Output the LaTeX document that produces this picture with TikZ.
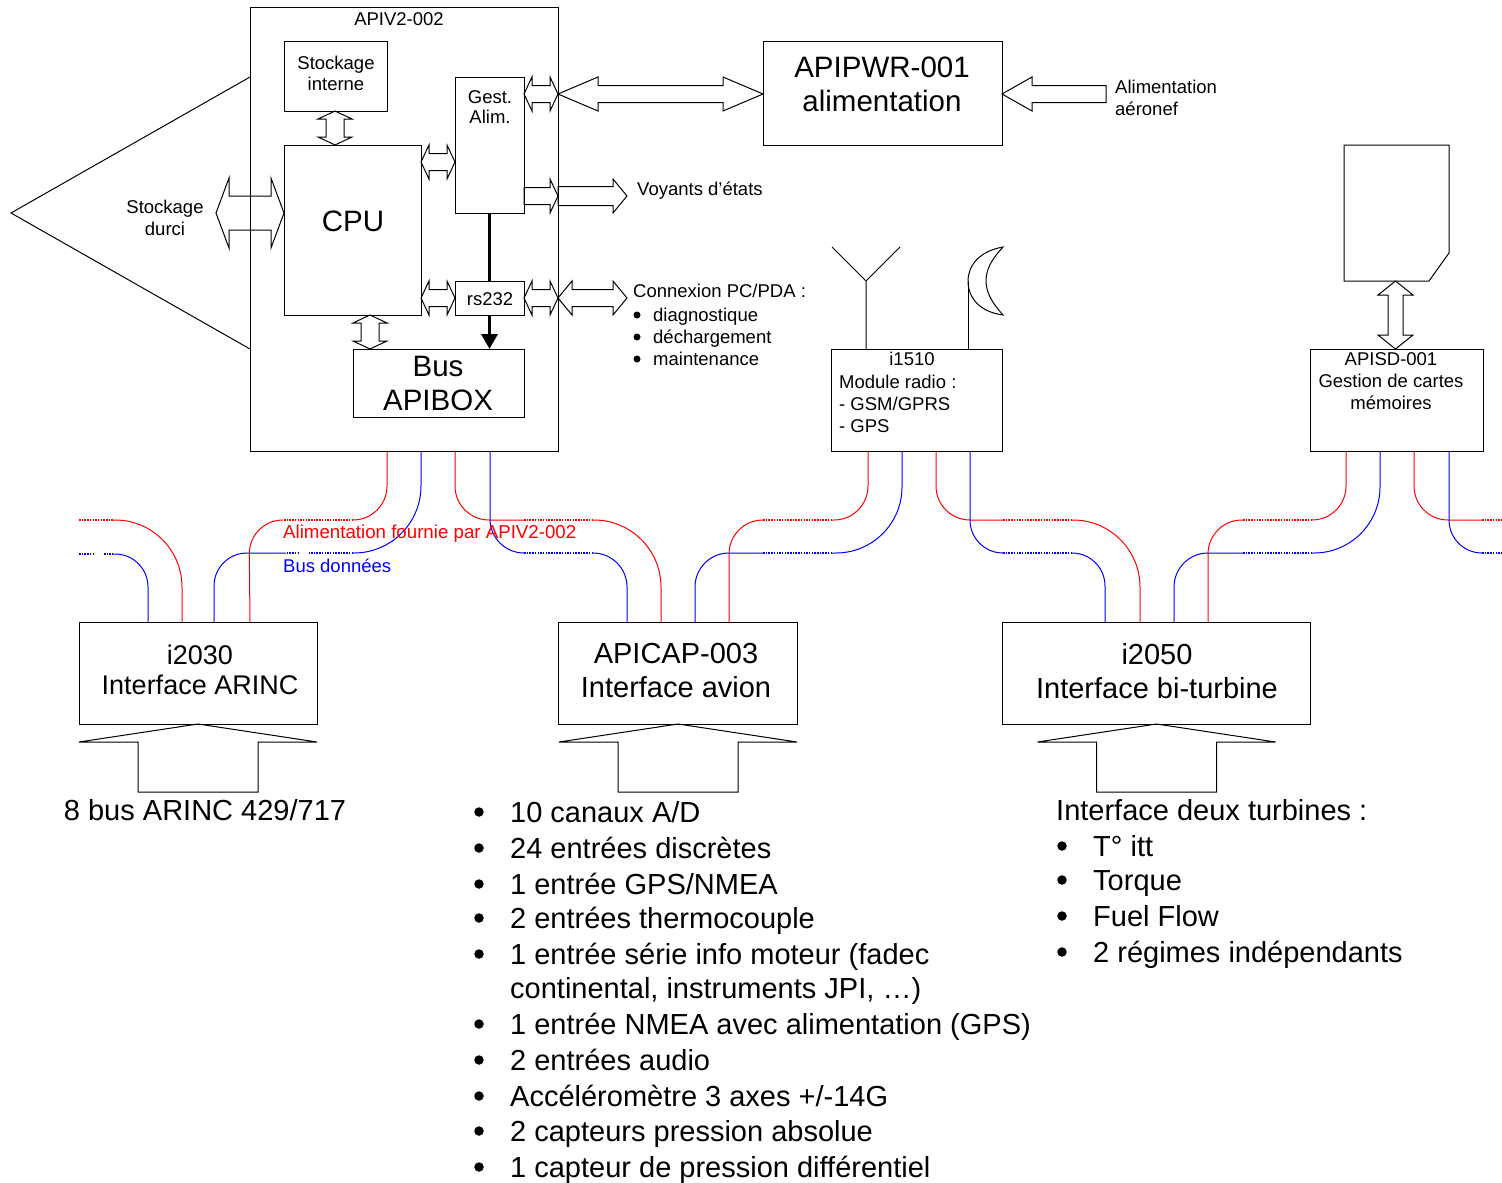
\documentclass[tikz,border=0pt]{standalone}
\usepackage{fontspec}
\setmainfont{Liberation Sans}
\usetikzlibrary{calc,arrows.meta}
\tikzset{
  box/.style={draw=black,line width=1pt,inner sep=0pt,outer sep=0pt},
  blockarrow/.style={draw=black,line width=1pt,line join=miter},
  outline/.style={draw=black,line width=1pt},
  redw/.style={draw=red,line width=1pt},
  bluew/.style={draw=blue,line width=1pt},
  reddots/.style={draw=red,line width=1.5pt,dash pattern=on 1.5pt off 1.2pt},
  bluedots/.style={draw=blue,line width=1.5pt,dash pattern=on 1.5pt off 1.2pt},
  small/.style={font=\fontsize{18.5}{22}\selectfont,inner sep=0pt,align=center},
  smallb/.style={font=\fontsize{18.5}{22}\selectfont,inner sep=0pt,anchor=base west},
  mid/.style={font=\fontsize{27}{30}\selectfont,inner sep=0pt,align=center},
  big/.style={font=\fontsize{29.5}{34}\selectfont,inner sep=0pt,align=center},
  bigb/.style={font=\fontsize{29}{34}\selectfont,inner sep=0pt,align=center},
  listtxt/.style={font=\fontsize{29}{34}\selectfont,inner sep=0pt,anchor=base west},
  bigdot/.style={circle,fill=black,inner sep=0pt,minimum size=9.5pt},
  smalldot/.style={circle,fill=black,inner sep=0pt,minimum size=7pt},
}
\newcommand\bx[5]{\node[box,minimum width={(#4)*1pt-(#2)*1pt},minimum height={(#5)*1pt-(#3)*1pt}] (#1) at ({(#2+#4)/2},{(#3+#5)/2}) {};}
% from, to, head length, half shaft, half head
\newcommand\dblarrow[5]{\coordinate (A) at #1; \coordinate (B) at #2;
  \draw[blockarrow] (A)
   -- ($(A)!#3pt!(B)!#5pt!90:(B)$) -- ($(A)!#3pt!(B)!#4pt!90:(B)$)
   -- ($(B)!#3pt!(A)!#4pt!-90:(A)$) -- ($(B)!#3pt!(A)!#5pt!-90:(A)$)
   -- (B)
   -- ($(B)!#3pt!(A)!#5pt!90:(A)$) -- ($(B)!#3pt!(A)!#4pt!90:(A)$)
   -- ($(A)!#3pt!(B)!#4pt!-90:(B)$) -- ($(A)!#3pt!(B)!#5pt!-90:(B)$)
   -- cycle;}
\newcommand\onearrow[5]{\coordinate (A) at #1; \coordinate (B) at #2;
  \draw[blockarrow] ($(A)!#4pt!90:(B)$)
   -- ($(B)!#3pt!(A)!#4pt!-90:(A)$) -- ($(B)!#3pt!(A)!#5pt!-90:(A)$)
   -- (B)
   -- ($(B)!#3pt!(A)!#5pt!90:(A)$) -- ($(B)!#3pt!(A)!#4pt!90:(A)$)
   -- ($(A)!#4pt!-90:(B)$) -- cycle;}
\newcommand\inarrow[1]{\draw[blockarrow] #1 -- ++(-119,18) -- ++(59,0) -- ++(0,50) -- ++(120,0) -- ++(0,-50) -- ++(59,0) -- cycle;}
\begin{document}
\begin{tikzpicture}[x=1pt,y=-1pt]
\useasboundingbox (0,0) rectangle (1502,1183);

% boxes
\bx{apiv}{250}{7}{558}{451}
\bx{stock}{284}{41}{387}{111}
\bx{cpu}{284}{145}{421}{315}
\bx{gest}{455}{77}{524}{213}
\bx{rs}{455}{281}{524}{315}
\bx{bus}{353}{349}{524}{417}
\bx{pwr}{763}{41}{1002}{145}
\bx{radio}{831}{349}{1002}{451}
\bx{sd}{1310}{349}{1483}{451}
\bx{arinc}{79}{622}{317}{724}
\bx{cap}{558}{622}{797}{724}
\bx{turb}{1002}{622}{1310}{724}

% outline shapes
\draw[outline] (250,77) -- (11,213) -- (250,349);
\draw[outline] (1344,145) -- (1449,145) -- (1449,253) -- (1429,281) -- (1344,281) -- cycle;

% antenna and dish
\draw[outline] (866,0 |- radio.north) -- (866,281) -- (832,247);
\draw[outline] (866,281) -- (900,247);
\draw[outline] (968,0 |- radio.north) -- (968,281);
\draw[outline] (1003,247) .. controls (980,251) and (968,265) .. (968,281)
   .. controls (968,298) and (980,312) .. (1003,315)
   .. controls (993,304) and (986,293) .. (986,281)
   .. controls (986,268) and (993,258) .. (1003,247) -- cycle;

% block arrows
\dblarrow{(apiv.east |- 0,94)}{(pwr.west |- 0,94)}{40}{8.5}{17}
\dblarrow{(gest.east |- 0,94)}{(apiv.east |- 0,94)}{8}{8.5}{17}
\dblarrow{(cpu.east |- 0,162)}{(gest.west |- 0,162)}{8}{8.5}{17}
\dblarrow{(cpu.east |- rs.west)}{(rs.west)}{8}{8.5}{17}
\dblarrow{(rs.east)}{(apiv.east |- rs.east)}{8}{8.5}{17}
\coordinate (pcend) at (627,298);
\dblarrow{(apiv.east |- rs.east)}{(pcend)}{14}{8.5}{17}
\onearrow{(gest.east |- 0,196)}{(apiv.east |- 0,196)}{8}{8.5}{17}
\coordinate (voyend) at (627,196);
\onearrow{(apiv.east |- 0,196)}{(voyend)}{14}{9.5}{17}
\coordinate (aeroend) at (1106,94);
\onearrow{(aeroend)}{(pwr.east |- 0,94)}{30}{8.5}{17}
\coordinate (durci) at (216,213);
\dblarrow{(durci)}{(cpu.west |- 0,213)}{13}{17}{35}
\dblarrow{(335,0 |- stock.south)}{(335,0 |- cpu.north)}{8}{9}{17}
\dblarrow{(370,0 |- cpu.south)}{(370,0 |- bus.north)}{8}{9}{17}
\coordinate (cardb) at (1395.5,281);
\dblarrow{(cardb)}{(1395.5,0 |- sd.north)}{14}{7.5}{17.5}

\inarrow{(198,0 |- arinc.south)}
\inarrow{(678,0 |- cap.south)}
\inarrow{(1156.5,0 |- turb.south)}

% thick link
\draw[line width=3.4pt] (gest.south) -- (rs.north);
\draw[line width=3.4pt,-{Triangle[length=15pt,width=16pt]}] (rs.south) -- (rs.south |- bus.north);

% wires APIV2 left
\draw[redw,rounded corners=34pt] (387,0 |- apiv.south) -- (387,520) -- (353,520);
\draw[reddots] (353,520) -- (283,520);
\draw[redw,rounded corners=34pt] (283,520) -- (249,520) -- (250,0 |- arinc.north);
\draw[bluew,rounded corners=67pt] (421,0 |- apiv.south) -- (421,553) -- (353,553);
\draw[bluedots] (353,553) -- (309,553);
\draw[bluedots] (299,553) -- (286,553);
\draw[bluew,rounded corners=33pt] (286,553) -- (214,553) -- (214,0 |- arinc.north);
% wires to i2030 from the left
\draw[reddots] (79,520) -- (113,520);
\draw[redw,rounded corners=67pt] (113,520) -- (182,520) -- (182,0 |- arinc.north);
\draw[bluedots] (79,554) -- (94,554);
\draw[bluedots] (104,554) -- (113,554);
\draw[bluew,rounded corners=33pt] (113,554) -- (148,554) -- (148,0 |- arinc.north);
% wires APIV2 right to APICAP
\draw[redw,rounded corners=34pt] (455,0 |- apiv.south) -- (455,520) -- (524,520);
\draw[reddots] (524,520) -- (592,520);
\draw[redw,rounded corners=67pt] (592,520) -- (661,520) -- (661,0 |- cap.north);
\draw[bluew,rounded corners=34pt] (490,0 |- apiv.south) -- (490,553) -- (524,553);
\draw[bluedots] (524,553) -- (592,553);
\draw[bluew,rounded corners=34pt] (592,553) -- (627,553) -- (627,0 |- cap.north);
% wires i1510 left to APICAP
\draw[redw,rounded corners=34pt] (868,0 |- radio.south) -- (868,520) -- (832,520);
\draw[reddots] (832,520) -- (763,520);
\draw[redw,rounded corners=34pt] (763,520) -- (729,520) -- (729,0 |- cap.north);
\draw[bluew,rounded corners=66pt] (902,0 |- radio.south) -- (902,553) -- (832,553);
\draw[bluedots] (832,553) -- (763,553);
\draw[bluew,rounded corners=34pt] (763,553) -- (695,553) -- (695,0 |- cap.north);
% wires i1510 right to i2050
\draw[redw,rounded corners=34pt] (936,0 |- radio.south) -- (936,520) -- (1003,520);
\draw[reddots] (1003,520) -- (1072,520);
\draw[redw,rounded corners=67pt] (1072,520) -- (1140,520) -- (1140,0 |- turb.north);
\draw[bluew,rounded corners=33pt] (970,0 |- radio.south) -- (970,553) -- (1003,553);
\draw[bluedots] (1003,553) -- (1072,553);
\draw[bluew,rounded corners=33pt] (1072,553) -- (1105,553) -- (1105,0 |- turb.north);
% wires APISD left to i2050
\draw[redw,rounded corners=34pt] (1346,0 |- sd.south) -- (1346,520) -- (1312,520);
\draw[reddots] (1312,520) -- (1243,520);
\draw[redw,rounded corners=34pt] (1243,520) -- (1208,520) -- (1208,0 |- turb.north);
\draw[bluew,rounded corners=66pt] (1380,0 |- sd.south) -- (1380,553) -- (1312,553);
\draw[bluedots] (1312,553) -- (1243,553);
\draw[bluew,rounded corners=34pt] (1243,553) -- (1174,553) -- (1174,0 |- turb.north);
% wires APISD right
\draw[redw,rounded corners=34pt] (1414,0 |- sd.south) -- (1414,520) -- (1482,520);
\draw[reddots] (1482,520) -- (1502,520);
\draw[bluew,rounded corners=33pt] (1449,0 |- sd.south) -- (1449,553) -- (1482,553);
\draw[bluedots] (1482,553) -- (1502,553);

% texts
\node[small] (tapiv) at (399,19) {APIV2-002};
\node[small,font=\fontsize{18.5}{21}\selectfont] (tstock) at (336,73) {Stockage\\interne};
\node[small,font=\fontsize{18.5}{20}\selectfont] (tgest) at (490,107) {Gest.\\Alim.};
\node[big] (tcpu) at (353,221) {CPU};
\node[small] (trs) at (490,299) {rs232};
\node[big] (tbus) at (438,383) {Bus\\APIBOX};
\node[big] (tpwr) at (882,84) {APIPWR-001\\alimentation};
\node[small,anchor=west,align=left] (taero) at (1115,98) {Alimentation\\aéronef};
\node[smallb] (tvoy) at (637,195.5) {Voyants d’états};
\node[smallb] (tpc) at (633,297) {Connexion PC/PDA :};
\foreach \y/\t in {315/diagnostique,337/déchargement,359/maintenance}{
  \node[smalldot] (b\y) at (637,\y) {};
  \node[smallb] (l\y) at (653,\y+6.5) {\t};
}
\node[small] (tdurci) at (165,218) {Stockage\\durci};
\node[small] (tradio) at (912,359) {i1510};
\node[small,anchor=west,align=left] (tradiob) at (839,404) {Module radio :\\- GSM/GPRS\\- GPS};
\node[small] (tsd) at (1391,381) {APISD-001\\Gestion de cartes\\mémoires};
\node[smallb,text=red,font=\fontsize{18.7}{22}\selectfont] (tred) at (283,538.5) {Alimentation fournie par APIV2-002};
\node[smallb,text=blue] (tblue) at (283,572) {Bus données};
\node[mid] (tarinc) at (200,670) {i2030\\Interface ARINC};
\node[bigb] (tcap) at (676,671) {APICAP-003\\Interface avion};
\node[bigb] (tturb) at (1157,671) {i2050\\Interface bi-turbine};
\node[listtxt,anchor=base] (t8bus) at (205,820) {8 bus ARINC 429/717};
\foreach \y/\t in {812/{10 canaux A/D},848/{24 entrées discrètes},884/{1 entrée GPS/NMEA},918/{2 entrées thermocouple},954/{1 entrée série info moteur (fadec},1024/{1 entrée NMEA avec alimentation (GPS)},1060/{2 entrées audio},1096/{Accéléromètre 3 axes +/-14G},1131/{2 capteurs pression absolue},1167/{1 capteur de pression différentiel}}{
  \node[bigdot] (cb\y) at (479,\y) {};
  \node[listtxt] (cl\y) at (510,\y+10) {\t};
}
\node[listtxt] (cl988) at (510,998) {continental, instruments JPI, …)};
\node[listtxt] (tdeux) at (1056,820) {Interface deux turbines :};
\foreach \y/\t in {846/{T° itt},880/{Torque},916/{Fuel Flow},952/{2 régimes indépendants}}{
  \node[bigdot] (db\y) at (1062,\y) {};
  \node[listtxt] (dl\y) at (1093,\y+10) {\t};
}
\end{tikzpicture}
\end{document}
